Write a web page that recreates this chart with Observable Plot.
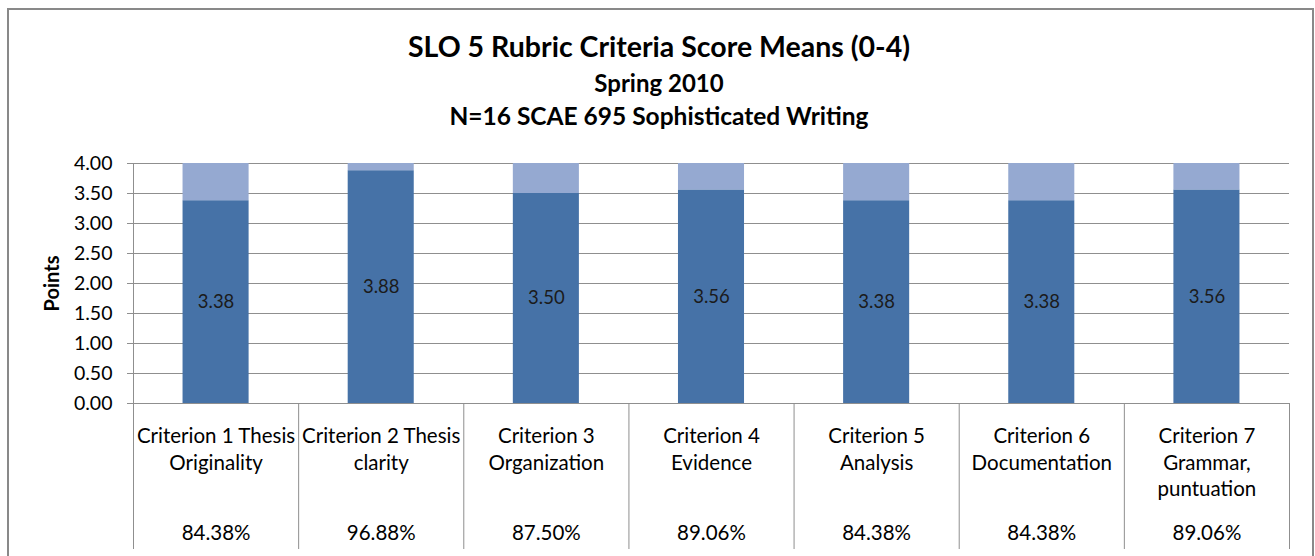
<!DOCTYPE html>
<html><head><meta charset="utf-8">
<script src="https://cdn.jsdelivr.net/npm/d3@7"></script>
<script src="https://cdn.jsdelivr.net/npm/@observablehq/plot@0.6"></script>
<style>
body{margin:0;background:#fff;font-family:Lato,sans-serif;}
#wrap{position:relative;width:1315px;height:556px;overflow:hidden;background:#fff;}
#frame{position:absolute;left:7px;top:8px;width:1307px;height:600px;border:2px solid #898989;box-sizing:border-box;}
.t{position:absolute;left:0;width:1318px;text-align:center;font-weight:bold;color:#000;white-space:nowrap;}
#t1{top:32px;font-size:28.5px;line-height:28.5px;}
#t2{top:71px;font-size:24px;line-height:24px;}
#t3{top:104px;font-size:24.5px;line-height:24.5px;}
#chart{position:absolute;left:0;top:150px;}
</style></head>
<body><div id="wrap"><div id="frame"></div>
<div class="t" id="t1">SLO 5 Rubric Criteria Score Means (0-4)</div>
<div class="t" id="t2">Spring 2010</div>
<div class="t" id="t3">N=16 SCAE 695 Sophisticated Writing</div>
<div id="chart"></div></div>
<script>
const categories = ["Criterion 1 Thesis\nOriginality", "Criterion 2 Thesis\nclarity", "Criterion 3\nOrganization", "Criterion 4\nEvidence", "Criterion 5\nAnalysis", "Criterion 6\nDocumentation", "Criterion 7\nGrammar,\npuntuation"];
const means = [3.38, 3.88, 3.50, 3.56, 3.38, 3.38, 3.56];
const maxScore = 4;
const percents = ["84.38%", "96.88%", "87.50%", "89.06%", "84.38%", "84.38%", "89.06%"];
const yTicks = [0, 0.5, 1, 1.5, 2, 2.5, 3, 3.5, 4];
const yLabel = "Points";

const dark = "#4672A7", light = "#95A9D1", grid = "#8f8f8f";
const rows = categories.map((c, i) => ({i, label: c, mean: means[i], pct: percents[i]}));
const boundaries = d3.range(categories.length + 1).map(k => k - 0.5);

const chart = Plot.plot({
  width: 1315, height: 406,
  marginLeft: 133, marginRight: 26, marginTop: 13, marginBottom: 153,
  style: {fontFamily: "Lato, sans-serif", fontSize: "18px", background: "transparent", overflow: "visible"},
  x: {type: "linear", domain: [-0.5, categories.length - 0.5], axis: null},
  y: {domain: [0, maxScore], axis: null},
  marks: [
    Plot.gridY(yTicks, {stroke: grid, strokeOpacity: 1}),
    Plot.rectY(rows, {x1: d => d.i - 0.2, x2: d => d.i + 0.2, y1: 0, y2: "mean", fill: dark}),
    Plot.rectY(rows, {x1: d => d.i - 0.2, x2: d => d.i + 0.2, y1: "mean", y2: maxScore, fill: light}),
    Plot.text(rows, {x: "i", y: d => d.mean / 2, text: d => d.mean.toFixed(2), fill: "#1b1b1b", fontSize: 18.5}),
    Plot.ruleX([-0.5], {y1: 0, y2: maxScore, stroke: grid}),
    Plot.axisY(yTicks, {tickFormat: d => d.toFixed(2), tickSize: 6, tickPadding: 15, stroke: grid, fill: "#000", fontSize: 19.5, label: null}),
    Plot.axisX(boundaries, {tickSize: 146, tickFormat: () => "", stroke: grid, label: null}),
    Plot.text(rows, {x: "i", text: "label", frameAnchor: "bottom", lineAnchor: "top", dy: 20.5, lineHeight: 1.3, fontSize: 20.5, fill: "#000"}),
    Plot.text(rows, {x: "i", text: "pct", frameAnchor: "bottom", lineAnchor: "top", dy: 122, fontSize: 20.5, fill: "#000"}),
    Plot.text([yLabel], {text: d => d, frameAnchor: "left", textAnchor: "middle", rotate: -90, dx: -81, fontWeight: "bold", fontSize: 20, fill: "#000"})
  ]
});
document.getElementById("chart").appendChild(chart);
</script>
</body></html>
